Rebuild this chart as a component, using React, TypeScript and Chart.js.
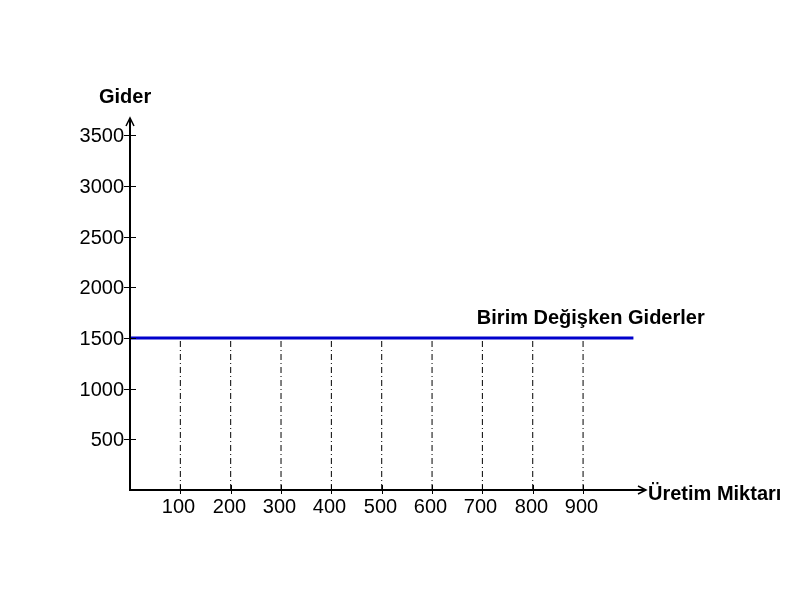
import React, { useEffect, useRef } from "react";
import { Chart, registerables } from "chart.js";

Chart.register(...registerables);

const xTicks = [100, 200, 300, 400, 500, 600, 700, 800, 900];
const yTicks = [500, 1000, 1500, 2000, 2500, 3000, 3500];
const lineX = [0, 1000];
const lineY = [1500, 1500];
const seriesLabel = "Birim Değişken Giderler";
const xTitle = "Üretim Miktarı";
const yTitle = "Gider";

const FONT = "'Liberation Sans', Arial, sans-serif";

const axesPlugin = {
  id: "customAxes",
  afterDraw(chart: any) {
    const { ctx, chartArea } = chart;
    const xs = chart.scales.x;
    const ys = chart.scales.y;
    const x0 = xs.getPixelForValue(0);
    const y0 = ys.getPixelForValue(0);
    const top = chartArea.top;
    const right = chartArea.right;
    ctx.save();
    ctx.strokeStyle = "#000";
    ctx.fillStyle = "#000";
    ctx.lineWidth = 2;
    // y axis
    ctx.beginPath();
    ctx.moveTo(x0, y0 + 1);
    ctx.lineTo(x0, top);
    ctx.stroke();
    // x axis
    ctx.beginPath();
    ctx.moveTo(x0 - 1, y0);
    ctx.lineTo(right, y0);
    ctx.stroke();
    // arrows
    ctx.lineWidth = 1.5;
    ctx.beginPath();
    ctx.moveTo(x0 - 4, top + 8);
    ctx.lineTo(x0, top);
    ctx.lineTo(x0 + 4, top + 8);
    ctx.stroke();
    ctx.beginPath();
    ctx.moveTo(right - 8, y0 - 4);
    ctx.lineTo(right, y0);
    ctx.lineTo(right - 8, y0 + 4);
    ctx.stroke();
    // ticks
    ctx.lineWidth = 1;
    ctx.font = `20px ${FONT}`;
    ctx.textAlign = "right";
    ctx.textBaseline = "middle";
    yTicks.forEach((v) => {
      const py = Math.round(ys.getPixelForValue(v)) + 0.5;
      ctx.beginPath();
      ctx.moveTo(x0 - 6, py);
      ctx.lineTo(x0 + 6, py);
      ctx.stroke();
      ctx.fillText(String(v), x0 - 6, py + 1);
    });
    ctx.textAlign = "center";
    ctx.textBaseline = "middle";
    xTicks.forEach((v) => {
      const px = Math.round(xs.getPixelForValue(v)) + 0.5;
      ctx.beginPath();
      ctx.moveTo(px, y0 - 5);
      ctx.lineTo(px, y0 + 4);
      ctx.stroke();
      ctx.fillText(String(v), px - 2, y0 + 17);
    });
    // titles
    ctx.font = `bold 20px ${FONT}`;
    ctx.textAlign = "left";
    ctx.fillText(yTitle, x0 - 31, top - 21);
    ctx.fillText(xTitle, right + 2, y0 + 4);
    ctx.fillText(
      seriesLabel,
      xs.getPixelForValue(689),
      ys.getPixelForValue(1500) - 19
    );
    ctx.restore();
  },
};

export default function App() {
  const ref = useRef<HTMLCanvasElement | null>(null);
  useEffect(() => {
    if (!ref.current) return;
    const dashed = xTicks.map((x) => ({
      label: "d" + x,
      data: [
        { x, y: 0 },
        { x, y: lineY[0] },
      ],
      borderColor: "#000",
      borderWidth: 1,
      borderDash: [6, 3, 1, 3],
      pointRadius: 0,
      showLine: true,
      fill: false,
    }));
    const chart = new Chart(ref.current, {
      type: "scatter",
      data: {
        datasets: [
          {
            label: seriesLabel,
            data: lineX.map((x, i) => ({ x, y: lineY[i] })),
            borderColor: "#0000cc",
            borderWidth: 3,
            pointRadius: 0,
            showLine: true,
            fill: false,
          },
          ...dashed,
        ],
      },
      options: {
        animation: false,
        responsive: false,
        layout: { padding: { left: 130, right: 154, top: 118, bottom: 110 } },
        plugins: {
          legend: { display: false },
          tooltip: { enabled: false },
        },
        scales: {
          x: { type: "linear", min: 0, max: 1025, display: false },
          y: { type: "linear", min: 0, max: 3670, display: false },
        },
      },
      plugins: [axesPlugin],
    } as any);
    return () => chart.destroy();
  }, []);
  return (
    <div style={{ position: "absolute", left: 0, top: 0, width: 800, height: 600, background: "#fff" }}>
      <canvas ref={ref} width={800} height={600} style={{ width: 800, height: 600 }} />
    </div>
  );
}
